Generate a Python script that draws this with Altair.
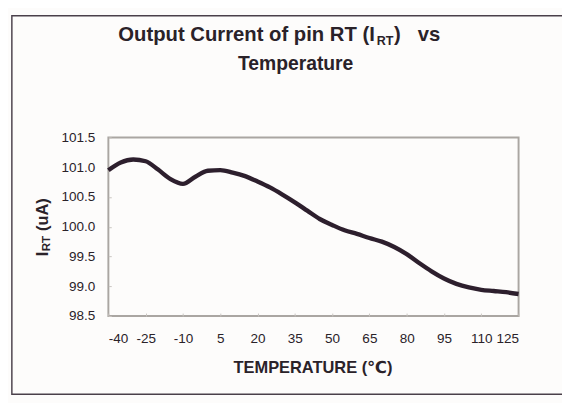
import altair as alt
import pandas as pd

temps = [-40, -35, -30, -25, -20, -15, -10, -5, 0, 5, 10, 15, 20, 25, 30, 35, 40, 45,
         50, 55, 60, 65, 70, 75, 80, 85, 90, 95, 100, 105, 110, 115, 120, 125]
current = [100.95, 101.08, 101.13, 101.10, 100.96, 100.80, 100.72, 100.84, 100.94, 100.95,
           100.91, 100.85, 100.76, 100.66, 100.54, 100.41, 100.27, 100.13,
           100.03, 99.94, 99.88, 99.81, 99.75, 99.66, 99.54, 99.39, 99.25, 99.13,
           99.04, 98.98, 98.94, 98.92, 98.90, 98.87]
x_ticks = [-40, -25, -10, 5, 20, 35, 50, 65, 80, 95, 110, 125]
y_ticks = [98.5, 99.0, 99.5, 100.0, 100.5, 101.0, 101.5]

NB = "\u00a0"
title_main = "Output Current of pin RT (I"
title_sub = "RT"
title_tail = ")" + NB * 3 + "vs"
title_line2 = "Temperature"
ytitle_main = "I"
ytitle_sub = "RT"
ytitle_tail = "(uA)"
xtitle = "TEMPERATURE (℃)"

FONT = "Liberation Sans, Arial, DejaVu Sans, Noto Sans CJK SC"
TXT = "#2a2229"

df = pd.DataFrame({"t": temps, "i": current})
one = pd.DataFrame({"k": [0]})

line = alt.Chart(df).mark_line(color="#2d1f2d", strokeWidth=4.5, interpolate="monotone").encode(
    x=alt.X("t:Q", scale=alt.Scale(domain=[-40, 125], nice=False),
            axis=alt.Axis(values=x_ticks, title=None, grid=False, domain=False,
                          labelExpr="datum.value < 0 ? '-' + abs(datum.value) : '' + datum.value",
                          offset=-3, tickSize=3, tickColor="#c8c4c0", labelPadding=16,
                          labelFont=FONT, labelFontSize=14, labelColor=TXT)),
    y=alt.Y("i:Q", scale=alt.Scale(domain=[98.5, 101.5], nice=False, zero=False),
            axis=alt.Axis(values=y_ticks, format=".1f", title=None, grid=False, domain=False,
                          offset=-3, tickSize=3, tickColor="#c8c4c0", labelPadding=14,
                          labelFont=FONT, labelFontSize=14, labelColor=TXT)),
)

def txt(text, x, y, size, align="left", angle=0, baseline="alphabetic"):
    return alt.Chart(one).mark_text(text=text, font=FONT, fontSize=size, fontWeight="bold",
                                    color=TXT, align=align, angle=angle, baseline=baseline).encode(
        x=alt.value(x), y=alt.value(y))

# title (plot origin is at page x=112, y=135)
t1 = txt(title_main, 276, -100, 21, align="right")
t2 = txt(title_sub, 278, -96, 13)
t3 = txt(title_tail, 296, -100, 21)
t4 = txt(title_line2, 194, -70, 20, align="center")

# y title (rotated)
ya = txt(ytitle_main, -63, 123, 17, angle=270)
yb = txt(ytitle_sub, -60, 118, 12, angle=270)
yc = txt(ytitle_tail, -63, 97, 17, angle=270)

xt = txt(xtitle, 212, 244, 17, align="center")

frame = alt.Chart(one).mark_rect(fillOpacity=0, stroke="#4a404a", strokeWidth=1.5).encode(
    x=alt.value(-100), x2=alt.value(480), y=alt.value(-126), y2=alt.value(266))

chart = alt.layer(frame, line, t1, t2, t3, t4, ya, yb, yc, xt).properties(
    width=425, height=185,
    autosize=alt.AutoSizeParams(type="none"),
    padding={"left": 104, "top": 127, "right": 45, "bottom": 83},
    background="#fdfcfb",
).configure_view(stroke="#aaa6a2", strokeWidth=2)

chart.save("out.html", embed_options={"renderer": "svg", "actions": False})
